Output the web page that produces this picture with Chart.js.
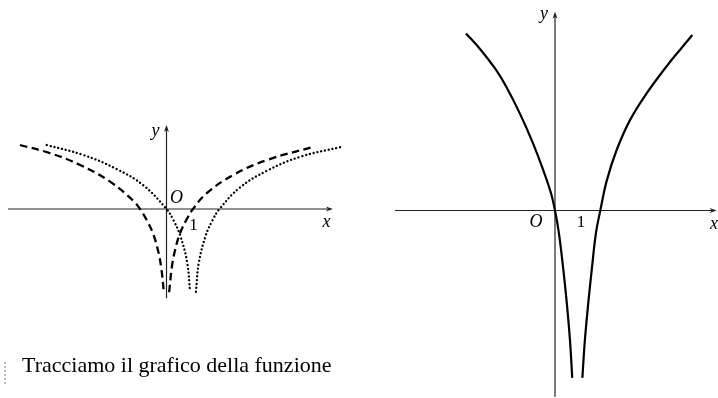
<!DOCTYPE html>
<html>
<head>
<meta charset="utf-8">
<script src="https://cdn.jsdelivr.net/npm/chart.js@4.4.0/dist/chart.umd.min.js"></script>
<style>
  html, body { margin: 0; padding: 0; background: #fff; }
  #wrap { position: relative; width: 718px; height: 398px; overflow: hidden; }
  canvas { position: absolute; top: 0; }
  #left { left: 0; }
  #right { left: 360px; }
  #caption {
    position: absolute; left: 22px; top: 352px;
    font-family: "Liberation Serif", "DejaVu Serif", serif; font-size: 22px;
    color: #000; white-space: nowrap;
  }
  #scan { position: absolute; left: 4px; top: 362px; width: 2px; height: 22px; border-left: 2px dotted #bbb; }
</style>
</head>
<body>
<div id="wrap">
  <canvas id="left" width="360" height="398"></canvas>
  <canvas id="right" width="358" height="398"></canvas>
  <div id="scan"></div>
  <div id="caption">Tracciamo il grafico della funzione</div>
</div>
<script>
// left graph, dashed curve, one array per branch
var dashLeftX = [-5.53, -4.40, -3.26, -2.13, -1.25, -1.0, -0.76, -0.51, -0.32, -0.20, -0.10];
var dashLeftY = [1.73, 1.51, 1.19, 0.74, 0.22, 0, -0.28, -0.66, -1.12, -1.58, -2.25];
var dashRightX = [0.10, 0.20, 0.32, 0.51, 0.76, 1.0, 1.52, 2.52, 3.78, 5.54];
var dashRightY = [-2.25, -1.58, -1.12, -0.66, -0.28, 0, 0.43, 0.92, 1.32, 1.68];

// left graph, dotted curve
var dotLeftX = [-4.52, -3.14, -1.88, -0.875, 0, 0.26, 0.52, 0.78, 0.89];
var dotLeftY = [1.73, 1.46, 1.08, 0.64, 0, -0.30, -0.72, -1.45, -2.24];
var dotRightX = [1.11, 1.22, 1.48, 1.74, 2.0, 2.77, 3.78, 5.04, 6.61];
var dotRightY = [-2.24, -1.45, -0.72, -0.30, 0, 0.58, 1.03, 1.41, 1.68];

// right graph, solid curve
var solidLeftX = [-3.87, -3.26, -2.57, -2.13, -1.52, -0.96, -0.48, -0.17, 0, 0.17, 0.35, 0.50, 0.65, 0.75];
var solidLeftY = [7.70, 7.02, 6.12, 5.40, 4.20, 2.93, 1.67, 0.74, 0, -0.98, -2.46, -3.89, -5.63, -7.28];
var solidRightX = [1.19, 1.30, 1.46, 1.61, 1.78, 1.97, 2.25, 2.68, 3.26, 3.99, 4.86, 5.43, 5.97];
var solidRightY = [-7.28, -5.63, -3.89, -2.46, -0.98, 0, 1.30, 2.63, 3.93, 5.10, 6.28, 6.98, 7.63];

// axis extents [min, max] in data units
var leftAxisX = [-5.98, 6.28];
var leftAxisY = [-2.41, 2.27];
var rightAxisX = [-6.96, 7.03];
var rightAxisY = [-8.10, 8.64];

function pts(xs, ys) {
  return xs.map(function (x, i) { return { x: x, y: ys[i] }; });
}

function curve(xs, ys, dash, width, cap) {
  return {
    data: pts(xs, ys),
    showLine: true,
    borderColor: "#000",
    borderWidth: width,
    borderDash: dash,
    borderCapStyle: cap,
    pointRadius: 0,
    tension: 0.4,
  };
}

// draws the two axes through the origin with arrows and labels
function axesPlugin(ax, ay, labels) {
  return {
    id: "axes",
    beforeDatasetsDraw: function (chart) {
      var ctx = chart.ctx;
      var sx = chart.scales.x, sy = chart.scales.y;
      var x0 = sx.getPixelForValue(0), y0 = sy.getPixelForValue(0);
      var xa = sx.getPixelForValue(ax[0]), xb = sx.getPixelForValue(ax[1]);
      var ya = sy.getPixelForValue(ay[0]), yb = sy.getPixelForValue(ay[1]);
      ctx.save();
      ctx.strokeStyle = "#222";
      ctx.fillStyle = "#222";
      ctx.lineWidth = 1.2;
      ctx.beginPath();
      ctx.moveTo(xa, y0); ctx.lineTo(xb - 2, y0);
      ctx.moveTo(x0, ya); ctx.lineTo(x0, yb + 2);
      ctx.stroke();
      // arrow heads
      ctx.beginPath();
      ctx.moveTo(xb, y0); ctx.lineTo(xb - 7, y0 - 2.5); ctx.lineTo(xb - 5, y0); ctx.lineTo(xb - 7, y0 + 2.5);
      ctx.closePath(); ctx.fill();
      ctx.beginPath();
      ctx.moveTo(x0, yb); ctx.lineTo(x0 - 2.5, yb + 7); ctx.lineTo(x0, yb + 5); ctx.lineTo(x0 + 2.5, yb + 7);
      ctx.closePath(); ctx.fill();
      ctx.fillStyle = "#000";
      ctx.textAlign = "center";
      ctx.textBaseline = "middle";
      labels.forEach(function (l) {
        ctx.font = l.font;
        ctx.fillText(l.text, x0 + l.dx, y0 + l.dy);
      });
      ctx.restore();
    },
  };
}

function makeChart(id, datasets, xr, yr, plugin) {
  return new Chart(document.getElementById(id), {
    type: "scatter",
    data: { datasets: datasets },
    options: {
      responsive: false,
      animation: false,
      devicePixelRatio: 1,
      layout: { padding: 0 },
      plugins: { legend: { display: false }, tooltip: { enabled: false } },
      scales: {
        x: { type: "linear", min: xr[0], max: xr[1], display: false },
        y: { type: "linear", min: yr[0], max: yr[1], display: false },
      },
    },
    plugins: [plugin],
  });
}

var it = "italic 18px 'Liberation Serif', serif";
var up = "17px 'Liberation Serif', serif";

// left canvas: origin at (166.5, 209), 26.5 px per x unit, 37 px per y unit
makeChart(
  "left",
  [
    curve(dashLeftX, dashLeftY, [7.5, 4.5], 2.3, "butt"),
    curve(dashRightX, dashRightY, [7.5, 4.5], 2.3, "butt"),
    curve(dotLeftX, dotLeftY, [0.1, 3.8], 2.3, "round"),
    curve(dotRightX, dotRightY, [0.1, 3.8], 2.3, "round"),
  ],
  [-166.5 / 26.5, 193.5 / 26.5],
  [-189 / 37, 209 / 37],
  axesPlugin(leftAxisX, leftAxisY, [
    { text: "y", dx: -11, dy: -78, font: it },
    { text: "O", dx: 10, dy: -11, font: it },
    { text: "1", dx: 27, dy: 17, font: up },
    { text: "x", dx: 160, dy: 13, font: it },
  ])
);

// right canvas: origin at (195, 210.5) inside the canvas, 23 px per unit
makeChart(
  "right",
  [
    curve(solidLeftX, solidLeftY, [], 2.2, "butt"),
    curve(solidRightX, solidRightY, [], 2.2, "butt"),
  ],
  [-195 / 23, 163 / 23],
  [-187.5 / 23, 210.5 / 23],
  axesPlugin(rightAxisX, rightAxisY, [
    { text: "y", dx: -11, dy: -196, font: it },
    { text: "O", dx: -19, dy: 12, font: it },
    { text: "1", dx: 26, dy: 12, font: up },
    { text: "x", dx: 159, dy: 14, font: it },
  ])
);
</script>
</body>
</html>
